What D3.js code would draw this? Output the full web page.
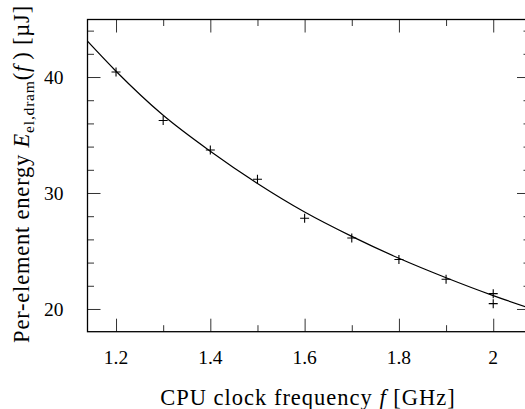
<!DOCTYPE html>
<html>
<head>
<meta charset="utf-8">
<script src="https://cdn.jsdelivr.net/npm/d3@7"></script>
<style>
  html, body { margin: 0; padding: 0; background: #fff; overflow: hidden; }
  svg { display: block; }
  text { font-family: "Liberation Serif", "DejaVu Serif", serif; fill: #000; }
</style>
</head>
<body>
<svg id="chart" width="525" height="409"></svg>
<script>
// Measured per-element energy at each CPU clock frequency (GHz -> µJ)
const freqs    = [1.2, 1.3, 1.4, 1.5, 1.6, 1.7, 1.8, 1.9, 2.0, 2.0];
const energies = [40.43, 36.25, 33.71, 31.18, 27.82, 26.12, 24.27, 22.56, 21.32, 20.46];

// Fitted model curve, sampled across the frequency axis
const fitFreqs    = [1.13, 1.2, 1.3, 1.4, 1.5, 1.6, 1.7, 1.8, 1.9, 2.0, 2.09];
const fitEnergies = [43.5, 40.5, 36.7, 33.6, 30.82, 28.36, 26.26, 24.37, 22.69, 21.15, 19.9];

// Tick values
const xMajorTicks = [1.2, 1.4, 1.6, 1.8, 2.0];
const xMinorTicks = [1.3, 1.5, 1.7, 1.9];
const yMajorTicks = [20, 30, 40];
const yMinorTicks = [22, 24, 26, 28, 32, 34, 36, 38, 42, 44];

const svg = d3.select("#chart");

const plotL = 87.5, plotT = 19.5, plotR = 530, plotB = 331.7;
const x = d3.scaleLinear().domain([1.1395, 2.078]).range([plotL, plotR]);
const y = d3.scaleLinear().domain([18.04, 44.96]).range([plotB, plotT]);

const majorLen = 13, minorLen = 6.5;

// Inward ticks on all four sides
function tickAxis(axisFn, scale, ticks, len, transform) {
  const ax = axisFn(scale).tickValues(ticks).tickSizeInner(len).tickSizeOuter(0).tickFormat("");
  const g = svg.append("g").attr("transform", transform).call(ax);
  g.select(".domain").remove();
  g.selectAll(".tick line").attr("stroke", "#333").attr("stroke-width", 1);
  return g;
}

// bottom (ticks pointing up)
tickAxis(d3.axisTop, x, xMajorTicks, majorLen, `translate(0,${plotB})`);
tickAxis(d3.axisTop, x, xMinorTicks, minorLen, `translate(0,${plotB})`);
// top (ticks pointing down)
tickAxis(d3.axisBottom, x, xMajorTicks, majorLen, `translate(0,${plotT})`);
tickAxis(d3.axisBottom, x, xMinorTicks, minorLen, `translate(0,${plotT})`);
// left (ticks pointing right)
tickAxis(d3.axisRight, y, yMajorTicks, majorLen, `translate(${plotL},0)`);
tickAxis(d3.axisRight, y, yMinorTicks, minorLen, `translate(${plotL},0)`);
// right (ticks pointing left)
tickAxis(d3.axisLeft, y, yMajorTicks, majorLen, `translate(${plotR},0)`);
tickAxis(d3.axisLeft, y, yMinorTicks, minorLen, `translate(${plotR},0)`);

// Tick labels
svg.append("g").selectAll("text").data(xMajorTicks).join("text")
  .attr("x", d => x(d)).attr("y", plotB + 32.5)
  .attr("text-anchor", "middle").attr("font-size", 19.5)
  .text(d => d3.format("")(d));

svg.append("g").selectAll("text").data(yMajorTicks).join("text")
  .attr("x", plotL - 24).attr("y", d => y(d)).attr("dy", "0.34em")
  .attr("text-anchor", "end").attr("font-size", 19.5)
  .text(d => d);

// Clip region for the plot
svg.append("clipPath").attr("id", "plotClip")
  .append("rect").attr("x", plotL).attr("y", plotT)
  .attr("width", plotR - plotL).attr("height", plotB - plotT);

// Fitted curve
const line = d3.line().x(d => x(d[0])).y(d => y(d[1])).curve(d3.curveMonotoneX);
svg.append("path")
  .datum(d3.zip(fitFreqs, fitEnergies))
  .attr("clip-path", "url(#plotClip)")
  .attr("fill", "none").attr("stroke", "#000").attr("stroke-width", 1.2)
  .attr("d", line);

// Measurement markers (plus signs)
const arm = 4.5;
svg.append("g").selectAll("path").data(d3.zip(freqs, energies)).join("path")
  .attr("fill", "none").attr("stroke", "#000").attr("stroke-width", 1.1)
  .attr("d", d => {
    const cx = x(d[0]), cy = y(d[1]);
    return `M${cx - arm},${cy}H${cx + arm}M${cx},${cy - arm}V${cy + arm}`;
  });

// Frame
svg.append("rect").attr("x", plotL).attr("y", plotT)
  .attr("width", plotR - plotL).attr("height", plotB - plotT)
  .attr("fill", "none").attr("stroke", "#000").attr("stroke-width", 1.3);

// Axis titles
const xt = svg.append("text").attr("x", 308).attr("y", 405)
  .attr("text-anchor", "middle").attr("font-size", 22.5)
  .attr("letter-spacing", 1);
xt.append("tspan").text("CPU clock frequency ");
xt.append("tspan").attr("font-style", "italic").text("f");
xt.append("tspan").text(" [GHz]");

const yt = svg.append("text")
  .attr("transform", "translate(29,174) rotate(-90)")
  .attr("text-anchor", "middle").attr("font-size", 22.5)
  .attr("letter-spacing", 0.8);
yt.append("tspan").text("Per-element energy ");
yt.append("tspan").attr("font-style", "italic").text("E");
yt.append("tspan").attr("font-size", 15.5).attr("dy", 5).text("el,dram");
yt.append("tspan").attr("dy", -5).text("(");
yt.append("tspan").attr("font-style", "italic").text("f");
yt.append("tspan").text("\u2009) [µJ]");
</script>
</body>
</html>
